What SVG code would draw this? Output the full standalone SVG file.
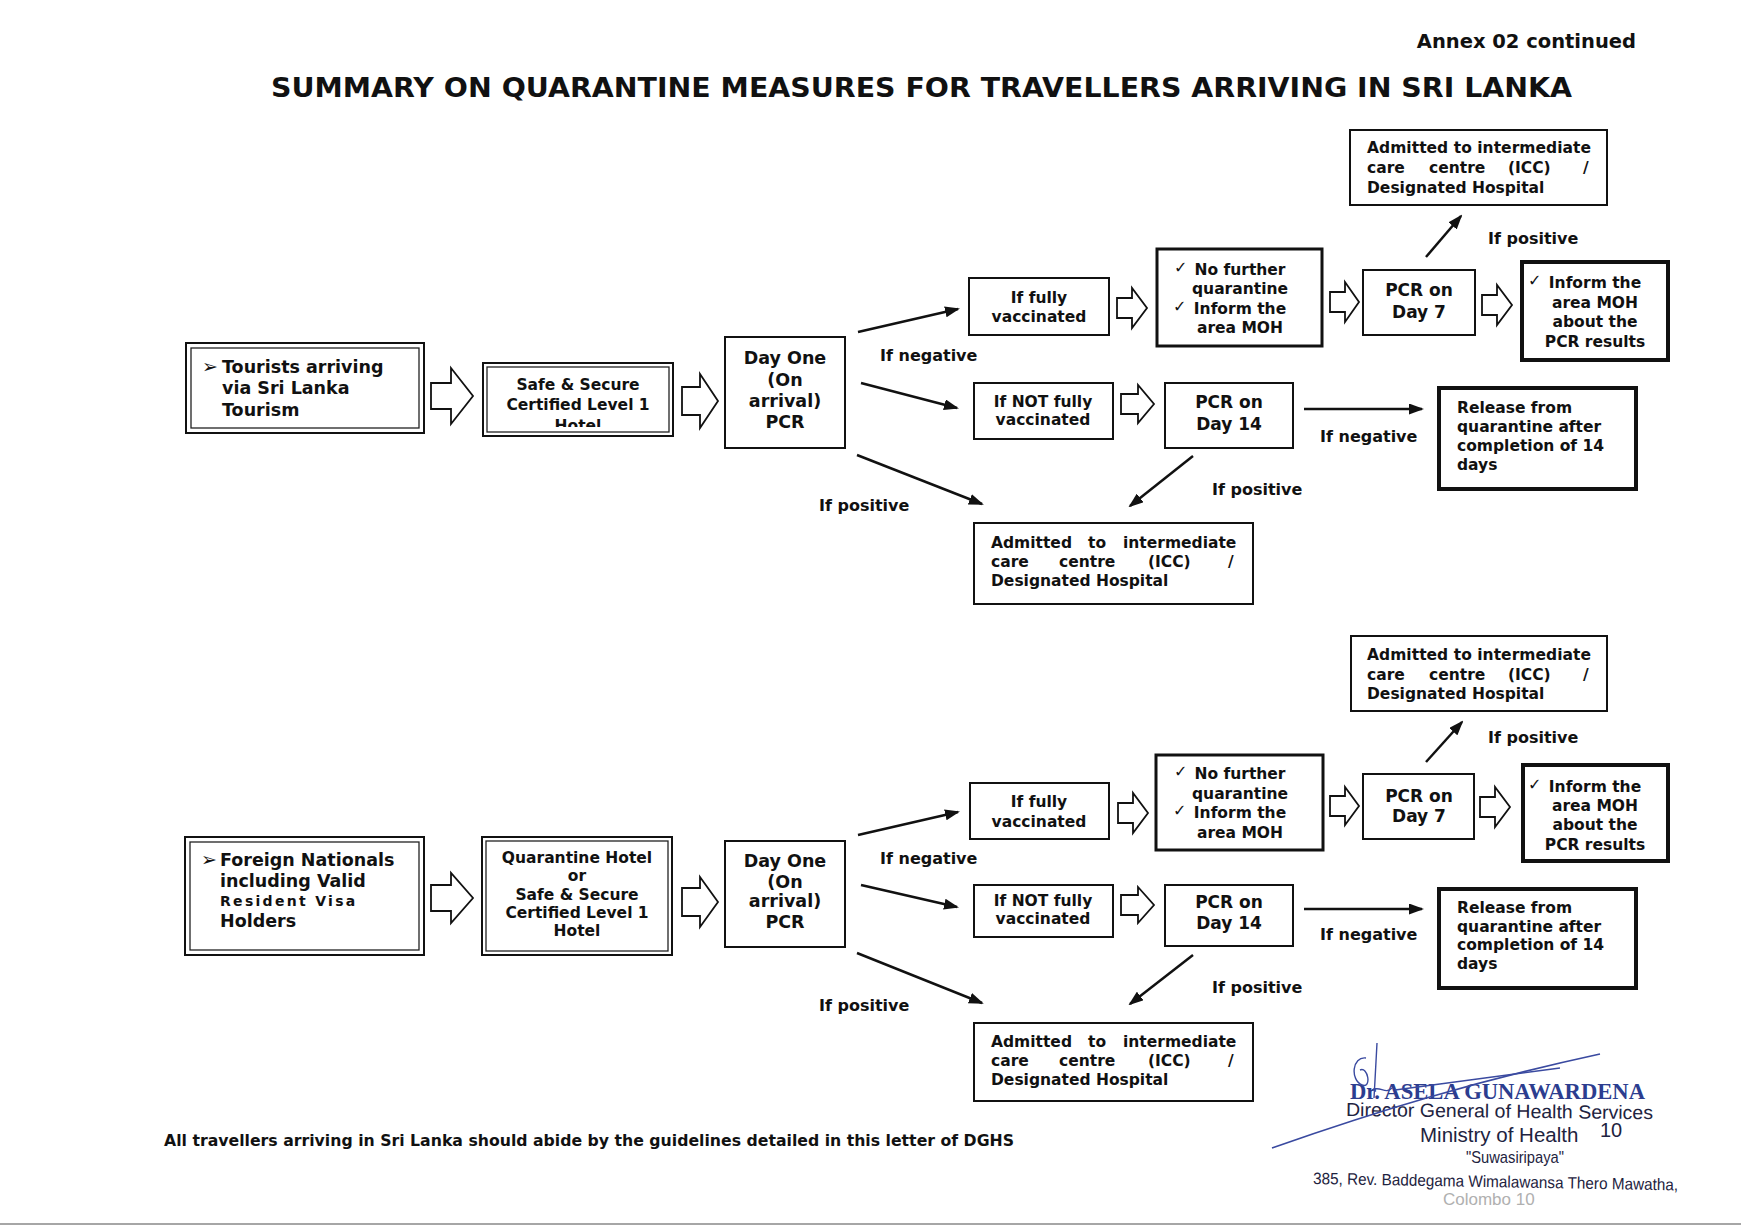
<svg xmlns="http://www.w3.org/2000/svg" width="1741" height="1228" viewBox="0 0 1741 1228">
<defs>
<style>
.b{font-family:"DejaVu Sans",Verdana,sans-serif;font-weight:bold;fill:#111}
.f155{font-size:15.5px}
.f16{font-size:16px}
.f17{font-size:17px}
.f175{font-size:17.5px}
.c{text-anchor:middle}
.ck{font-family:"DejaVu Sans",sans-serif;font-size:16px;fill:#111}
.bul{font-family:"DejaVu Sans",sans-serif;font-size:19px;fill:#111}
.box{fill:#fff;stroke:#111;stroke-width:2}
.t3{stroke-width:3}
.t4{stroke-width:4}
.thin{fill:none;stroke:#222;stroke-width:1.3}
.blk{fill:#fff;stroke:#111;stroke-width:1.8;stroke-linejoin:miter}
.con{stroke:#111;stroke-width:2.5;fill:none;marker-end:url(#ah)}
.sig{font-family:"Liberation Sans",Arial,sans-serif;fill:#1e2340}
</style>
<marker id="ah" markerWidth="15" markerHeight="11" refX="13" refY="5.5" orient="auto" markerUnits="userSpaceOnUse">
<path d="M0,0 L15,5.5 L0,11 z" fill="#111"/>
</marker>
<clipPath id="clipHotel"><rect x="487" y="367" width="182" height="60"/></clipPath>
</defs>
<rect width="1741" height="1228" fill="#fff"/>

<text class="b" x="1636" y="48" font-size="19.5" text-anchor="end">Annex 02 continued</text>
<text class="b" x="271" y="97" font-size="27" textLength="1301" lengthAdjust="spacingAndGlyphs">SUMMARY ON QUARANTINE MEASURES FOR TRAVELLERS ARRIVING IN SRI LANKA</text>

<!-- ===== Section 1 ===== -->
<g id="tourists">
<rect class="box" x="186" y="343" width="238" height="90" stroke-width="3.5"/>
<rect class="thin" x="191" y="348" width="228" height="80"/>
<text class="bul" x="202" y="373">➢</text>
<text class="b f175" x="222" y="373">Tourists arriving</text>
<text class="b f175" x="222" y="394">via Sri Lanka</text>
<text class="b f175" x="222" y="416">Tourism</text>
</g>
<g id="safe1">
<rect class="box" x="483" y="363" width="190" height="73" stroke-width="1.5"/>
<rect class="thin" x="487" y="367" width="182" height="65"/>
<text class="b f155 c" x="578" y="390">Safe &amp; Secure</text>
<text class="b f155 c" x="578" y="410">Certified Level 1</text>
<text class="b f155 c" x="578" y="431" clip-path="url(#clipHotel)">Hotel</text>
</g>
<g id="dayone1">
<rect class="box" x="725" y="337" width="120" height="111"/>
<text class="b f175 c" x="785" y="364">Day One</text>
<text class="b f175 c" x="785" y="386">(On</text>
<text class="b f175 c" x="785" y="407">arrival)</text>
<text class="b f175 c" x="785" y="428">PCR</text>
</g>
<g id="fully1">
<rect class="box" x="969" y="278" width="140" height="57"/>
<text class="b f155 c" x="1039" y="303">If fully</text>
<text class="b f155 c" x="1039" y="322">vaccinated</text>
</g>
<g id="nofurther1">
<rect class="box t3" x="1157" y="249" width="165" height="97"/>
<text class="ck" x="1174" y="273">✓</text>
<text class="b f155 c" x="1240" y="275">No further</text>
<text class="b f155 c" x="1240" y="294">quarantine</text>
<text class="ck" x="1173" y="312">✓</text>
<text class="b f155 c" x="1240" y="314">Inform the</text>
<text class="b f155 c" x="1240" y="333">area MOH</text>
</g>
<g id="pcr7a">
<rect class="box" x="1363" y="270" width="112" height="65"/>
<text class="b f17 c" x="1419" y="296">PCR on</text>
<text class="b f17 c" x="1419" y="318">Day 7</text>
</g>
<g id="inform1">
<rect class="box t4" x="1522" y="262" width="146" height="98"/>
<text class="ck" x="1528" y="286">✓</text>
<text class="b f155 c" x="1595" y="288">Inform the</text>
<text class="b f155 c" x="1595" y="308">area MOH</text>
<text class="b f155 c" x="1595" y="327">about the</text>
<text class="b f155 c" x="1595" y="347">PCR results</text>
</g>
<g id="icctop1">
<rect class="box" x="1350" y="130" width="257" height="75"/>
<text class="b f155" x="1367" y="153" textLength="224">Admitted to intermediate</text>
<text class="b f155" y="173"><tspan x="1367">care</tspan><tspan x="1429">centre</tspan><tspan x="1508">(ICC)</tspan><tspan x="1583">/</tspan></text>
<text class="b f155" x="1367" y="193">Designated Hospital</text>
</g>
<g id="notfully1">
<rect class="box" x="974" y="383" width="139" height="56"/>
<text class="b f155 c" x="1043" y="407">If NOT fully</text>
<text class="b f155 c" x="1043" y="425">vaccinated</text>
</g>
<g id="pcr14a">
<rect class="box" x="1165" y="383" width="128" height="65"/>
<text class="b f17 c" x="1229" y="408">PCR on</text>
<text class="b f17 c" x="1229" y="430">Day 14</text>
</g>
<g id="release1">
<rect class="box t4" x="1439" y="388" width="197" height="101"/>
<text class="b f155" x="1457" y="413">Release from</text>
<text class="b f155" x="1457" y="432">quarantine after</text>
<text class="b f155" x="1457" y="451">completion of 14</text>
<text class="b f155" x="1457" y="470">days</text>
</g>
<g id="icclow1">
<rect class="box" x="974" y="523" width="279" height="81"/>
<text class="b f155" y="548"><tspan x="991">Admitted</tspan><tspan x="1088">to</tspan><tspan x="1123">intermediate</tspan></text>
<text class="b f155" y="567"><tspan x="991">care</tspan><tspan x="1059">centre</tspan><tspan x="1148">(ICC)</tspan><tspan x="1228">/</tspan></text>
<text class="b f155" x="991" y="586">Designated Hospital</text>
</g>

<!-- ===== Section 2 ===== -->
<g id="foreign">
<rect class="box" x="185" y="837" width="239" height="118" stroke-width="3.5"/>
<rect class="thin" x="190" y="842" width="229" height="108"/>
<text class="bul" x="201" y="866">➢</text>
<text class="b f175" x="220" y="866">Foreign Nationals</text>
<text class="b f175" x="220" y="887">including Valid</text>
<text class="b" x="220" y="906" font-size="14" letter-spacing="2.3">Resident Visa</text>
<text class="b f175" x="220" y="927">Holders</text>
</g>
<g id="qhotel">
<rect class="box" x="482" y="837" width="190" height="118" stroke-width="1.5"/>
<rect class="thin" x="486" y="841" width="182" height="110"/>
<text class="b f155 c" x="577" y="863">Quarantine Hotel</text>
<text class="b f155 c" x="577" y="881">or</text>
<text class="b f155 c" x="577" y="900">Safe &amp; Secure</text>
<text class="b f155 c" x="577" y="918">Certified Level 1</text>
<text class="b f155 c" x="577" y="936">Hotel</text>
</g>
<g id="dayone2">
<rect class="box" x="725" y="841" width="120" height="106"/>
<text class="b f175 c" x="785" y="867">Day One</text>
<text class="b f175 c" x="785" y="888">(On</text>
<text class="b f175 c" x="785" y="907">arrival)</text>
<text class="b f175 c" x="785" y="928">PCR</text>
</g>
<g id="fully2">
<rect class="box" x="970" y="783" width="139" height="56"/>
<text class="b f155 c" x="1039" y="807">If fully</text>
<text class="b f155 c" x="1039" y="827">vaccinated</text>
</g>
<g id="nofurther2">
<rect class="box t3" x="1156" y="755" width="167" height="95"/>
<text class="ck" x="1174" y="777">✓</text>
<text class="b f155 c" x="1240" y="779">No further</text>
<text class="b f155 c" x="1240" y="799">quarantine</text>
<text class="ck" x="1173" y="816">✓</text>
<text class="b f155 c" x="1240" y="818">Inform the</text>
<text class="b f155 c" x="1240" y="838">area MOH</text>
</g>
<g id="pcr7b">
<rect class="box" x="1363" y="774" width="111" height="65"/>
<text class="b f17 c" x="1419" y="802">PCR on</text>
<text class="b f17 c" x="1419" y="822">Day 7</text>
</g>
<g id="inform2">
<rect class="box t4" x="1523" y="765" width="145" height="96"/>
<text class="ck" x="1528" y="790">✓</text>
<text class="b f155 c" x="1595" y="792">Inform the</text>
<text class="b f155 c" x="1595" y="811">area MOH</text>
<text class="b f155 c" x="1595" y="830">about the</text>
<text class="b f155 c" x="1595" y="850">PCR results</text>
</g>
<g id="icctop2">
<rect class="box" x="1351" y="636" width="256" height="75"/>
<text class="b f155" x="1367" y="660" textLength="224">Admitted to intermediate</text>
<text class="b f155" y="680"><tspan x="1367">care</tspan><tspan x="1429">centre</tspan><tspan x="1508">(ICC)</tspan><tspan x="1583">/</tspan></text>
<text class="b f155" x="1367" y="699">Designated Hospital</text>
</g>
<g id="notfully2">
<rect class="box" x="974" y="885" width="139" height="52"/>
<text class="b f155 c" x="1043" y="906">If NOT fully</text>
<text class="b f155 c" x="1043" y="924">vaccinated</text>
</g>
<g id="pcr14b">
<rect class="box" x="1165" y="885" width="128" height="61"/>
<text class="b f17 c" x="1229" y="908">PCR on</text>
<text class="b f17 c" x="1229" y="929">Day 14</text>
</g>
<g id="release2">
<rect class="box t4" x="1439" y="889" width="197" height="99"/>
<text class="b f155" x="1457" y="913">Release from</text>
<text class="b f155" x="1457" y="932">quarantine after</text>
<text class="b f155" x="1457" y="950">completion of 14</text>
<text class="b f155" x="1457" y="969">days</text>
</g>
<g id="icclow2">
<rect class="box" x="974" y="1023" width="279" height="78"/>
<text class="b f155" y="1047"><tspan x="991">Admitted</tspan><tspan x="1088">to</tspan><tspan x="1123">intermediate</tspan></text>
<text class="b f155" y="1066"><tspan x="991">care</tspan><tspan x="1059">centre</tspan><tspan x="1148">(ICC)</tspan><tspan x="1228">/</tspan></text>
<text class="b f155" x="991" y="1085">Designated Hospital</text>
</g>

<!-- ===== Connectors ===== -->
<g id="connectors">
<polygon class="blk" points="431,383 451,383 451,368 473,396 451,424 451,409 431,409"/>
<polygon class="blk" points="682,387 700,387 700,374 718,401 700,428 700,415 682,415"/>
<polygon class="blk" points="1117,298 1132,298 1132,288 1147,308 1132,328 1132,318 1117,318"/>
<polygon class="blk" points="1330,292 1345,292 1345,282 1359,302 1345,322 1345,312 1330,312"/>
<polygon class="blk" points="1482,295 1497,295 1497,285 1512,305 1497,325 1497,315 1482,315"/>
<polygon class="blk" points="1121,394 1138,394 1138,385 1154,404 1138,423 1138,414 1121,414"/>
<line class="con" x1="858" y1="332" x2="958" y2="309"/>
<line class="con" x1="861" y1="383" x2="957" y2="408"/>
<line class="con" x1="857" y1="455" x2="982" y2="504"/>
<line class="con" x1="1426" y1="257" x2="1461" y2="216"/>
<line class="con" x1="1304" y1="409" x2="1422" y2="409"/>
<line class="con" x1="1193" y1="456" x2="1130" y2="506"/>
<text class="b f16" x="880" y="361">If negative</text>
<text class="b f16" x="819" y="511">If positive</text>
<text class="b f16" x="1488" y="244">If positive</text>
<text class="b f16" x="1320" y="442">If negative</text>
<text class="b f16" x="1212" y="495">If positive</text>

<polygon class="blk" points="431,885 451,885 451,873 473,898 451,923 451,911 431,911"/>
<polygon class="blk" points="682,888 700,888 700,877 718,902 700,927 700,916 682,916"/>
<polygon class="blk" points="1118,803 1133,803 1133,793 1148,813 1133,833 1133,823 1118,823"/>
<polygon class="blk" points="1330,796 1345,796 1345,787 1359,806 1345,825 1345,816 1330,816"/>
<polygon class="blk" points="1480,797 1495,797 1495,787 1510,807 1495,827 1495,817 1480,817"/>
<polygon class="blk" points="1121,895 1138,895 1138,887 1154,905 1138,923 1138,915 1121,915"/>
<line class="con" x1="858" y1="835" x2="958" y2="812"/>
<line class="con" x1="861" y1="885" x2="957" y2="907"/>
<line class="con" x1="857" y1="953" x2="982" y2="1003"/>
<line class="con" x1="1426" y1="762" x2="1462" y2="722"/>
<line class="con" x1="1304" y1="909" x2="1422" y2="909"/>
<line class="con" x1="1193" y1="955" x2="1130" y2="1004"/>
<text class="b f16" x="880" y="864">If negative</text>
<text class="b f16" x="819" y="1011">If positive</text>
<text class="b f16" x="1488" y="743">If positive</text>
<text class="b f16" x="1320" y="940">If negative</text>
<text class="b f16" x="1212" y="993">If positive</text>
</g>

<text class="b" x="164" y="1146" font-size="15" textLength="850" lengthAdjust="spacingAndGlyphs">All travellers arriving in Sri Lanka should abide by the guidelines detailed in this letter of DGHS</text>

<!-- signature block -->
<g id="signature">
<text x="1350" y="1099" font-family="'Liberation Serif','Times New Roman',serif" font-weight="bold" font-size="22.5" fill="#2c3d8f" textLength="295" lengthAdjust="spacingAndGlyphs">Dr. ASELA GUNAWARDENA</text>
<text class="sig" x="1346" y="1116" font-size="19" textLength="307" lengthAdjust="spacingAndGlyphs" transform="rotate(0.6 1346 1116)">Director General of Health Services</text>
<text class="sig" x="1420" y="1142" font-size="20.5">Ministry of Health</text>
<text class="sig" x="1600" y="1137" font-size="20" fill="#222">10</text>
<text class="sig" x="1466" y="1163" font-size="17" textLength="98" lengthAdjust="spacingAndGlyphs">"Suwasiripaya"</text>
<text class="sig" x="1313" y="1184" font-size="16.5" textLength="365" lengthAdjust="spacingAndGlyphs" transform="rotate(1 1313 1184)">385, Rev. Baddegama Wimalawansa Thero Mawatha,</text>
<text x="1443" y="1205" font-family="'Liberation Sans',Arial,sans-serif" font-size="17" fill="#b0b0b0">Colombo 10</text>
<path d="M1272,1148 C1380,1110 1480,1080 1600,1054" fill="none" stroke="#3a4aa0" stroke-width="1.6"/>
<path d="M1377,1043 C1376,1063 1375,1080 1374,1098 M1366,1058 C1352,1056 1350,1080 1362,1085 C1372,1089 1368,1066 1360,1070 M1372,1090 C1380,1085 1385,1095 1392,1088 M1395,1090 L1560,1068" fill="none" stroke="#3a4aa0" stroke-width="1.4"/>
</g>
<line x1="0" y1="1224" x2="1741" y2="1224" stroke="#888" stroke-width="1.5"/>
</svg>
